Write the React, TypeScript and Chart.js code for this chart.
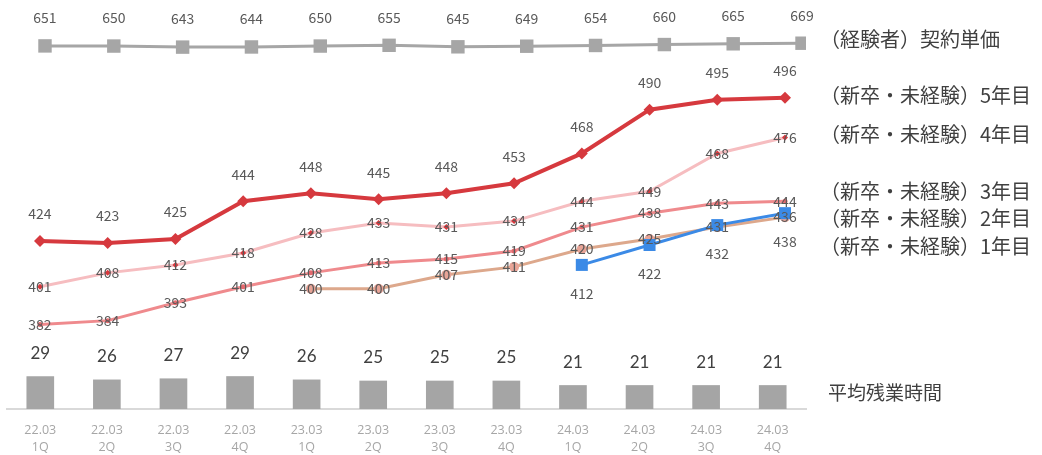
import React, { useEffect, useRef } from "react";
import { Chart, registerables } from "chart.js";

Chart.register(...registerables);

// Quarter labels (two lines each)
const categories: string[][] = [
  ["22.03", "1Q"], ["22.03", "2Q"], ["22.03", "3Q"], ["22.03", "4Q"],
  ["23.03", "1Q"], ["23.03", "2Q"], ["23.03", "3Q"], ["23.03", "4Q"],
  ["24.03", "1Q"], ["24.03", "2Q"], ["24.03", "3Q"], ["24.03", "4Q"],
];

// Contract unit price (experienced)
const experiencedPrice = [651, 650, 643, 644, 650, 655, 645, 649, 654, 660, 665, 669];
// Contract unit price for new graduates / inexperienced, by year of service
const year5 = [424, 423, 425, 444, 448, 445, 448, 453, 468, 490, 495, 496];
const year4 = [401, 408, 412, 418, 428, 433, 431, 434, 444, 449, 468, 476];
const year3 = [382, 384, 393, 401, 408, 413, 415, 419, 431, 438, 443, 444];
const year2 = [null, null, null, null, 400, 400, 407, 411, 420, 425, 431, 436];
const year1 = [null, null, null, null, null, null, null, null, 412, 422, 432, 438];
// Average overtime hours
const overtime = [29, 26, 27, 29, 26, 25, 25, 25, 21, 21, 21, 21];

const seriesNames = [
  "（経験者）契約単価",
  "（新卒・未経験）5年目",
  "（新卒・未経験）4年目",
  "（新卒・未経験）3年目",
  "（新卒・未経験）2年目",
  "（新卒・未経験）1年目",
  "平均残業時間",
];

const toPoints = (arr: (number | null)[]) => arr.map((v, i) => ({ x: i, y: v }));

type LabelPos = "above" | "center" | "below";

const LABEL_FONT = '14px "Noto Sans CJK JP", "Noto Sans", sans-serif';
const BAR_FONT = '17px Lato, "Open Sans", sans-serif';

const valueLabels = {
  id: "valueLabels",
  afterDatasetsDraw(chart: any) {
    const ctx = chart.ctx;
    ctx.save();
    ctx.textAlign = "center";
    ctx.textBaseline = "middle";
    chart.data.datasets.forEach((ds: any, di: number) => {
      const meta = chart.getDatasetMeta(di);
      const pos: LabelPos = ds.labelPos;
      meta.data.forEach((el: any, i: number) => {
        const raw = ds.data[i];
        const v = typeof raw === "object" && raw !== null ? raw.y : raw;
        if (v === null || v === undefined) return;
        let y = el.y;
        if (ds.type === "bar") {
          ctx.font = BAR_FONT;
          ctx.fillStyle = "#404040";
          y = el.y - 23;
        } else {
          ctx.font = LABEL_FONT;
          ctx.fillStyle = "#595959";
          if (pos === "above") y = el.y - ds.labelOffset;
          else if (pos === "below") y = el.y + ds.labelOffset;
        }
        ctx.fillText(String(v), el.x, y);
      });
    });
    ctx.restore();
  },
};

function App() {
  const canvasRef = useRef<HTMLCanvasElement | null>(null);

  useEffect(() => {
    if (!canvasRef.current) return;
    const lineBase = {
      type: "line" as const,
      xAxisID: "xLine",
      yAxisID: "yMain",
      spanGaps: false,
      tension: 0,
    };
    const chart = new Chart(canvasRef.current, {
      data: {
        labels: categories,
        datasets: [
          {
            type: "bar",
            label: seriesNames[6],
            data: overtime,
            xAxisID: "x",
            yAxisID: "yBar",
            backgroundColor: "#A5A5A5",
            barThickness: 27,
            grouped: false,
            order: 10,
          } as any,
          {
            type: "line",
            label: seriesNames[0],
            data: toPoints(experiencedPrice),
            xAxisID: "xTop",
            yAxisID: "yTop",
            borderColor: "#A6A6A6",
            borderWidth: 3,
            pointStyle: "rect",
            pointRadius: 9.5,
            pointBackgroundColor: "#A6A6A6",
            pointBorderWidth: 0,
            labelPos: "above",
            labelOffset: 28,
            order: 1,
          } as any,
          {
            ...lineBase,
            label: seriesNames[3],
            data: toPoints(year3),
            borderColor: "#EF8A8D",
            borderWidth: 3,
            pointStyle: "circle",
            pointRadius: 2.5,
            pointBackgroundColor: "#E46A6E",
            pointBorderWidth: 0,
            labelPos: "center",
            order: 6,
          } as any,
          {
            ...lineBase,
            label: seriesNames[4],
            data: toPoints(year2),
            borderColor: "#DDA88C",
            borderWidth: 3,
            pointStyle: "circle",
            pointRadius: 5,
            pointBackgroundColor: "#E8A497",
            pointBorderWidth: 0,
            labelPos: "center",
            order: 5,
          } as any,
          {
            ...lineBase,
            label: seriesNames[5],
            data: toPoints(year1),
            borderColor: "#3B8AE6",
            borderWidth: 3,
            pointStyle: "rect",
            pointRadius: 8.5,
            pointBackgroundColor: "#3B8AE6",
            pointBorderWidth: 0,
            labelPos: "below",
            labelOffset: 29,
            order: 4,
          } as any,
          {
            ...lineBase,
            label: seriesNames[2],
            data: toPoints(year4),
            borderColor: "#F6BDC0",
            borderWidth: 3,
            pointStyle: "rectRot",
            pointRadius: 3,
            pointBackgroundColor: "#D9383D",
            pointBorderWidth: 0,
            labelPos: "center",
            order: 3,
          } as any,
          {
            ...lineBase,
            label: seriesNames[1],
            data: toPoints(year5),
            borderColor: "#D6393E",
            borderWidth: 4,
            pointStyle: "rectRot",
            pointRadius: 6,
            pointBackgroundColor: "#D6393E",
            pointBorderWidth: 0,
            labelPos: "above",
            labelOffset: 27,
            order: 2,
          } as any,
        ],
      },
      options: {
        responsive: true,
        maintainAspectRatio: false,
        animation: false,
        layout: { autoPadding: false, padding: { left: 7, right: 236, top: 0, bottom: 0 } },
        plugins: {
          legend: { display: false },
          tooltip: { enabled: false },
        },
        scales: {
          x: {
            type: "category",
            offset: true,
            grid: { display: false, drawTicks: false },
            border: { display: true, color: "#D9D9D9", width: 2 },
            ticks: {
              color: "#A6A6A6",
              padding: 13,
              font: { family: '"Open Sans", sans-serif', size: 12.5, lineHeight: 1.35 },
              maxRotation: 0,
              autoSkip: false,
            },
            afterFit: (s: any) => {
              s.height = 46;
            },
          },
          xLine: {
            type: "linear",
            display: false,
            min: -0.487,
            max: 11.31,
          },
          xTop: {
            type: "linear",
            display: false,
            min: -0.552,
            max: 11.058,
          },
          yBar: { type: "linear", display: false, min: 0, max: 365 },
          yMain: { type: "linear", display: false, min: 339.6, max: 545.1 },
          yTop: { type: "linear", display: false, min: -1769, max: 957 },
        },
      } as any,
      plugins: [valueLabels],
    });
    return () => chart.destroy();
  }, []);

  const side: { text: string; top: number; left: number; size: number }[] = [
    { text: seriesNames[0], top: 39, left: 820, size: 20 },
    { text: seriesNames[1], top: 95, left: 820, size: 20 },
    { text: seriesNames[2], top: 134, left: 820, size: 20 },
    { text: seriesNames[3], top: 191, left: 820, size: 20 },
    { text: seriesNames[4], top: 218, left: 820, size: 20 },
    { text: seriesNames[5], top: 246, left: 820, size: 20 },
    { text: seriesNames[6], top: 391, left: 828, size: 19 },
  ];

  return (
    <div
      style={{
        position: "absolute",
        left: 0,
        top: 0,
        width: 1042,
        height: 455,
        background: "#ffffff",
        overflow: "hidden",
      }}
    >
      <canvas ref={canvasRef} />
      {side.map((s) => (
        <div
          key={s.text}
          style={{
            position: "absolute",
            left: s.left,
            top: s.top,
            transform: "translateY(-50%)",
            fontFamily: '"Noto Sans CJK JP", sans-serif',
            fontSize: s.size,
            lineHeight: 1,
            color: "#404040",
            whiteSpace: "nowrap",
          }}
        >
          {s.text}
        </div>
      ))}
    </div>
  );
}

export default App;
